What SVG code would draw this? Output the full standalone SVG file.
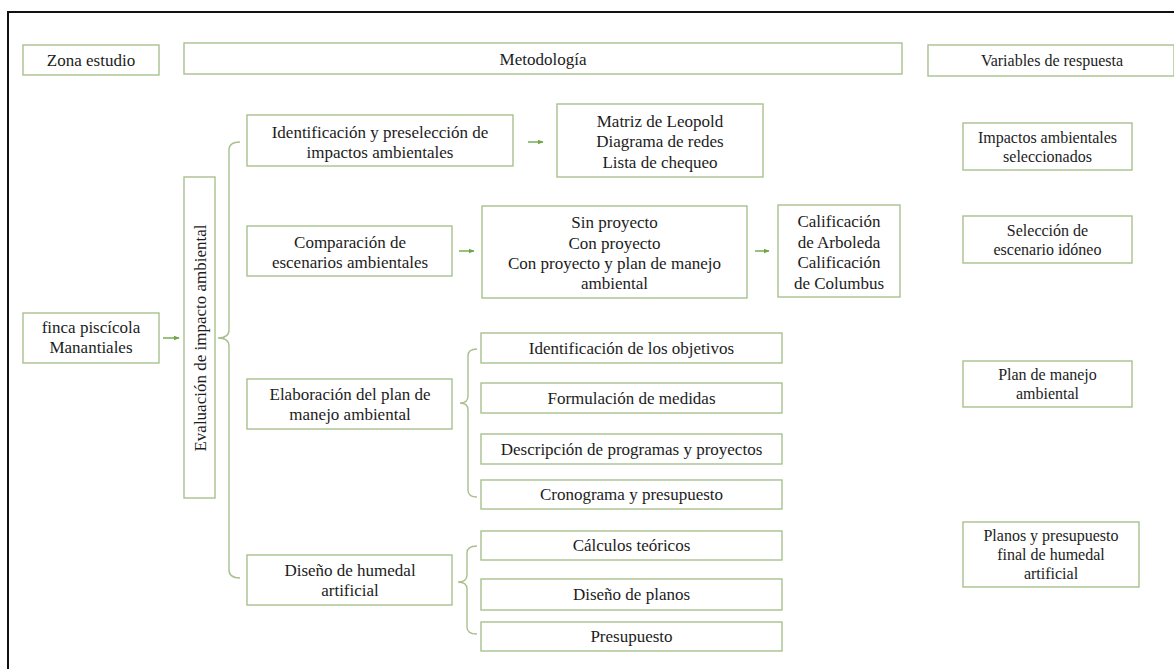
<svg xmlns="http://www.w3.org/2000/svg" width="1174" height="669" viewBox="0 0 1174 669">
<defs>
<style>
.box{fill:#fff;stroke:#a9c08e;stroke-width:1.4}
.t{font-family:"Liberation Serif","Times New Roman",serif;font-size:17px;fill:#1c1c1c;text-anchor:middle}
.s{font-size:16px}
.br{fill:none;stroke:#a9c08e;stroke-width:1.4}
.ar{fill:none;stroke:#6fa548;stroke-width:1.4}
</style>
<marker id="ah" viewBox="0 0 10 10" refX="9" refY="5" markerWidth="6" markerHeight="6" markerUnits="userSpaceOnUse" orient="auto">
<path d="M0,1 L10,5 L0,9 Z" fill="#6fa548"/>
</marker>
</defs>
<rect width="1174" height="669" fill="#fff"/>
<path d="M8,669 V12 H1174" fill="none" stroke="#111" stroke-width="2"/>

<g id="zona"><rect class="box" x="23" y="45" width="136" height="30"/><text class="t" x="91" y="66">Zona estudio</text></g>
<g id="metodologia"><rect class="box" x="184" y="43" width="718" height="31"/><text class="t" x="543" y="65">Metodología</text></g>
<g id="variables"><rect class="box" x="928" y="45" width="246" height="31"/><text class="t s" x="1052" y="66">Variables  de respuesta</text></g>

<g id="finca"><rect class="box" x="23" y="313" width="136" height="50"/><text class="t" x="91" y="333">finca piscícola</text><text class="t" x="91" y="353">Manantiales</text></g>
<g id="evaluacion"><rect class="box" x="184" y="177" width="31" height="321"/><text class="t" transform="translate(206,338) rotate(-90)">Evaluación  de impacto ambiental</text></g>

<g id="identificacion"><rect class="box" x="247" y="115" width="266" height="51"/><text class="t" x="380" y="138">Identificación y preselección de</text><text class="t" x="380" y="158">impactos ambientales</text></g>
<g id="matriz"><rect class="box" x="557" y="104" width="206" height="73"/><text class="t" x="660" y="127">Matriz  de Leopold</text><text class="t" x="660" y="147">Diagrama  de redes</text><text class="t" x="660" y="168">Lista de chequeo</text></g>

<g id="comparacion"><rect class="box" x="247" y="226" width="205" height="50"/><text class="t" x="350" y="248">Comparación de</text><text class="t" x="350" y="268">escenarios ambientales</text></g>
<g id="escenarios"><rect class="box" x="482" y="206" width="265" height="92"/><text class="t" x="614.5" y="228">Sin proyecto</text><text class="t" x="614.5" y="249">Con proyecto</text><text class="t" x="614.5" y="269">Con proyecto y plan  de manejo</text><text class="t" x="614.5" y="289">ambiental</text></g>
<g id="calificacion"><rect class="box" x="778" y="205" width="122" height="92"/><text class="t" x="839" y="227">Calificación</text><text class="t" x="839" y="248">de Arboleda</text><text class="t" x="839" y="268">Calificación</text><text class="t" x="839" y="289">de Columbus</text></g>

<g id="elaboracion"><rect class="box" x="247" y="379" width="205" height="50"/><text class="t" x="350" y="400">Elaboración  del plan  de</text><text class="t" x="350" y="420">manejo  ambiental</text></g>
<g id="objetivos"><rect class="box" x="481" y="333" width="301" height="30"/><text class="t" x="631.5" y="354">Identificación  de los objetivos</text></g>
<g id="medidas"><rect class="box" x="481" y="383" width="301" height="30"/><text class="t" x="631.5" y="404">Formulación  de medidas</text></g>
<g id="descripcion"><rect class="box" x="481" y="434" width="301" height="30"/><text class="t" x="631.5" y="455">Descripción de programas y proyectos</text></g>
<g id="cronograma"><rect class="box" x="481" y="480" width="301" height="29"/><text class="t" x="631.5" y="500">Cronograma y presupuesto</text></g>

<g id="humedal"><rect class="box" x="247" y="555" width="205" height="50"/><text class="t" x="350" y="576">Diseño  de humedal</text><text class="t" x="350" y="596">artificial</text></g>
<g id="calculos"><rect class="box" x="481" y="531" width="301" height="29"/><text class="t" x="631.5" y="551">Cálculos teóricos</text></g>
<g id="planos"><rect class="box" x="481" y="579" width="301" height="31"/><text class="t" x="631.5" y="600">Diseño  de planos</text></g>
<g id="presupuesto"><rect class="box" x="481" y="622" width="301" height="29"/><text class="t" x="631.5" y="642">Presupuesto</text></g>

<g id="impactos"><rect class="box" x="963" y="123" width="169" height="47"/><text class="t s" x="1047.5" y="143">Impactos ambientales</text><text class="t s" x="1047.5" y="162">seleccionados</text></g>
<g id="seleccion"><rect class="box" x="963" y="216" width="169" height="47"/><text class="t s" x="1047.5" y="236">Selección de</text><text class="t s" x="1047.5" y="255">escenario idóneo</text></g>
<g id="plan"><rect class="box" x="963" y="361" width="169" height="46"/><text class="t s" x="1047.5" y="380">Plan  de manejo</text><text class="t s" x="1047.5" y="399">ambiental</text></g>
<g id="planosfinal"><rect class="box" x="963" y="522" width="176" height="65"/><text class="t s" x="1051" y="541">Planos y presupuesto</text><text class="t s" x="1051" y="560">final  de humedal</text><text class="t s" x="1051" y="579">artificial</text></g>

<g id="connectors">
<path class="br" d="M240,142 Q229,142 229,150 V330 Q229,338 218,338 Q229,338 229,346 V570 Q229,578 240,578"/>
<path class="br" d="M477,349 Q468,349 468,356 V396 Q468,403 460,403 Q468,403 468,410 V490 Q468,497 477,497"/>
<path class="br" d="M477,546 Q467,546 467,553 V575 Q467,582 458,582 Q467,582 467,589 V627 Q467,634 477,634"/>
<line class="ar" x1="163" y1="338" x2="179" y2="338" marker-end="url(#ah)"/>
<line class="ar" x1="528" y1="142" x2="543" y2="142" marker-end="url(#ah)"/>
<line class="ar" x1="459" y1="251" x2="474" y2="251" marker-end="url(#ah)"/>
<line class="ar" x1="755" y1="251" x2="769" y2="251" marker-end="url(#ah)"/>
</g>
</svg>
